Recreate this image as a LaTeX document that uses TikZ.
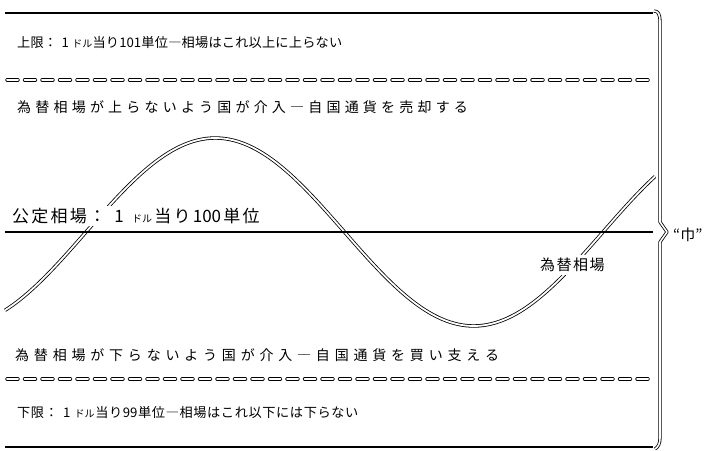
\documentclass[tikz,border=0pt]{standalone}
\usepackage{fontspec}
\newfontfamily\jp{Noto Sans CJK JP}
\newdimen\lspdim
\def\spreadit#1#2{\lspdim=#1\relax\spreadA#2\relax}
\def\spreadA#1{\ifx\relax#1\else#1\kern\lspdim\expandafter\spreadA\fi}
\newcommand{\sdoru}{{\fontsize{10}{12}\selectfont ドル}}
\begin{document}
\begin{tikzpicture}[x=1pt,y=-1pt,
  txt/.style={anchor=west,inner sep=1pt,font=\jp\fontsize{14}{16}\selectfont},
  small/.style={font=\jp\fontsize{13.2}{15}\selectfont},
  solidline/.style={line width=2.2pt},
  dashline/.style={double=white,line width=0.7pt,double distance=2pt,dash pattern=on 11pt off 6.5pt,line cap=round},
  wave/.style={double=white,line width=0.8pt,double distance=1.8pt},
  bracepath/.style={double=white,line width=0.8pt,double distance=1.6pt,line join=round}]
\useasboundingbox (0,0) rectangle (723,450);
% upper and lower limits
\draw[solidline] (5,13) coordinate (tl) -- (653,13) coordinate (tr);
\draw[solidline] (5,447) coordinate (bl) -- (653,447) coordinate (br);
\draw[dashline] (7,80) coordinate (dl1) -- (653,80) coordinate (dr1);
\draw[dashline] (7,379) coordinate (dl2) -- (653,379) coordinate (dr2);
% wave
\draw[wave] plot[domain=5:655,samples=160,smooth] (\x,{232-94*sin(0.69633*(\x-86))});
% central parity line
\draw[line width=1.6pt] (5,232) coordinate (cl) -- (653,232) coordinate (cr);
% texts
\node[txt,small] (upper) at (16,43) {\spreadit{0.2pt}{上限：{\kern4pt}1{\kern3pt}{\sdoru}当り{101}単位―相場はこれ以上に上らない}};
\node[txt] (sell) at (16,107) {\spreadit{4.2pt}{為替相場が上らないよう国が介入―自国通貨を売却する}};
\node[txt,fill=white,inner sep=2pt,font=\jp\fontsize{17}{19}\selectfont] (parity) at (10,216) {\spreadit{2.2pt}{公定相場：{\kern4pt}1{\kern4pt}{\sdoru}当り{100}単位}};
\node[txt,fill=white,anchor=center,font=\jp\fontsize{15}{17}\selectfont,inner sep=3pt] (rate) at (573,265) {\spreadit{1.5pt}{為替相場}};
\node[txt] (buy) at (14,355) {\spreadit{4.8pt}{為替相場が下らないよう国が介入―自国通貨を買い支える}};
\node[txt,small] (lower) at (16,412) {\spreadit{0.6pt}{下限：{\kern4pt}1{\kern3pt}{\sdoru}当り{99}単位―相場はこれ以下には下らない}};
% brace
\draw[bracepath] (654,11) .. controls (658,11) and (660,14) .. (660,22) -- (660,222) -- (667,232) coordinate (tip) -- (660,242) -- (660,438) .. controls (660,444) and (658,447) .. (655,449);
\node[txt,font=\jp\fontsize{15}{17}\selectfont] (width) at (672,235) {“巾”};
\end{tikzpicture}
\end{document}
